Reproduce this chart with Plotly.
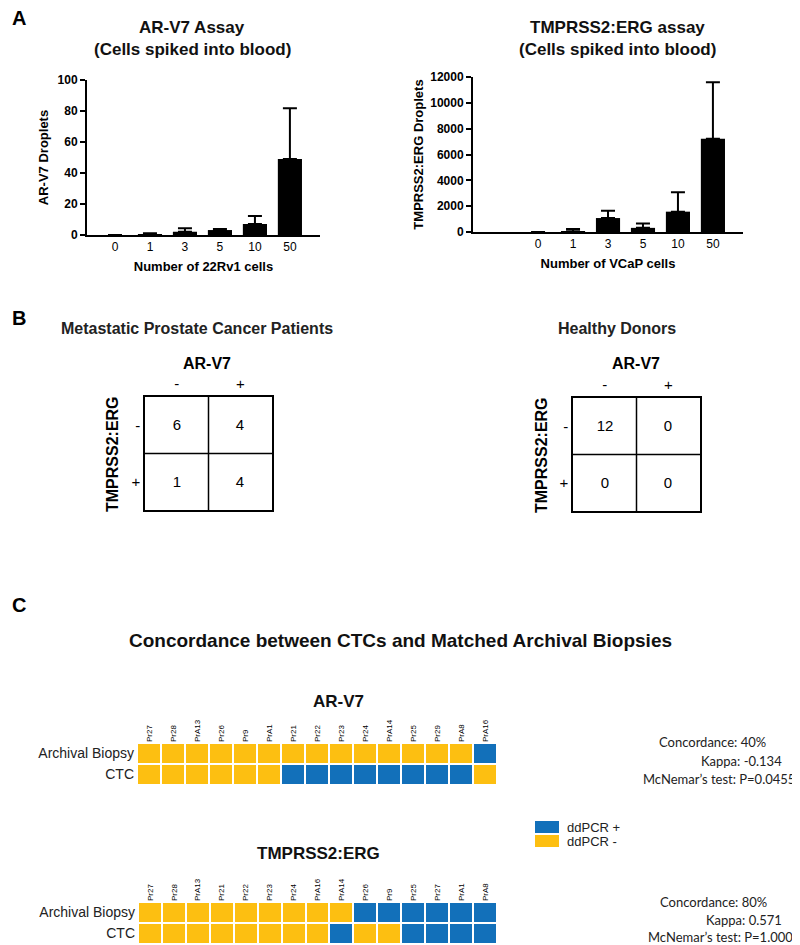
import plotly.graph_objects as go

# the page body has an 8px margin; map reference pixel coords 1:1
OFF = 8
W, H = 800 - OFF, 945 - OFF
def X(px): return min(max((px - OFF) / W, 0), 1)
def Y(py): return min(max(1 - (py - OFF) / H, 0), 1)

BLUE = "#1270BA"
YELLOW = "#FDBF11"
ARIAL = "Liberation Sans, Arial, sans-serif"
STATF = "Lato, sans-serif"

# ---- Panel A data ----
arv7_cells = ["0", "1", "3", "5", "10", "50"]
arv7_mean = [0, 0.6, 2.1, 3.2, 7.1, 49.0]
arv7_err = [None, 0.5, 2.2, 0.7, 5.2, 32.7]

tmp_cells = ["0", "1", "3", "5", "10", "50"]
tmp_mean = [0, 60, 1080, 320, 1575, 7225]
tmp_err = [None, 170, 570, 330, 1495, 4365]

# ---- Panel B data ----
pm_labels = ["-", "+"]
patients_table = [[6, 4], [1, 4]]
donors_table = [[12, 0], [0, 0]]

# ---- Panel C data ----
rows = ["Archival Biopsy", "CTC"]
arv7_samples = ["Pr27", "Pr28", "PrA13", "Pr26", "Pr9", "PrA1", "Pr21", "Pr22",
                "Pr23", "Pr24", "PrA14", "Pr25", "Pr29", "PrA8", "PrA16"]
arv7_archival = [0, 0, 0, 0, 0, 0, 0, 0, 0, 0, 0, 0, 0, 0, 1]
arv7_ctc = [0, 0, 0, 0, 0, 0, 1, 1, 1, 1, 1, 1, 1, 1, 0]
arv7_stats = ["Concordance: 40%", "Kappa: -0.134", "McNemar\u2019s test: P=0.0455"]

tmp_samples = ["Pr27", "Pr28", "PrA13", "Pr21", "Pr22", "Pr23", "Pr24", "PrA16",
               "PrA14", "Pr26", "Pr9", "Pr25", "Pr27", "PrA1", "PrA8"]
tmp_archival = [0, 0, 0, 0, 0, 0, 0, 0, 0, 1, 1, 1, 1, 1, 1]
tmp_ctc = [0, 0, 0, 0, 0, 0, 0, 0, 1, 0, 0, 1, 1, 1, 1]
tmp_stats = ["Concordance: 80%", "Kappa: 0.571", "McNemar\u2019s test: P=1.000"]

legend_labels = ["ddPCR +", "ddPCR -"]
legend_vals = [1, 0]

fig = go.Figure()

def bar_trace(cells, mean, err, xa, ya):
    return go.Bar(x=list(range(len(cells))), y=mean, width=0.69,
                  marker=dict(color="black", line=dict(width=0)),
                  error_y=dict(type="data", symmetric=False, array=err,
                               arrayminus=[0] * len(err), color="black",
                               thickness=2, width=7),
                  xaxis=xa, yaxis=ya, showlegend=False)

fig.add_trace(bar_trace(arv7_cells, arv7_mean, arv7_err, "x", "y"))
fig.add_trace(bar_trace(tmp_cells, tmp_mean, tmp_err, "x2", "y2"))

def table_trace(z, xa, ya):
    return go.Heatmap(z=z, x=[0, 1], y=[0, 1], colorscale=[[0, "white"], [1, "white"]],
                      showscale=False, texttemplate="%{z}",
                      textfont=dict(family=ARIAL, size=15, color="black"),
                      xaxis=xa, yaxis=ya, hoverinfo="skip")

fig.add_trace(table_trace(patients_table, "x3", "y3"))
fig.add_trace(table_trace(donors_table, "x4", "y4"))

cs = [[0, YELLOW], [0.5, YELLOW], [0.5, BLUE], [1, BLUE]]
def conc_trace(a, c, xa, ya):
    return go.Heatmap(z=[a, c], x=list(range(len(a))), y=[0, 1], colorscale=cs,
                      zmin=0, zmax=1, showscale=False, xgap=2, ygap=2,
                      xaxis=xa, yaxis=ya, hoverinfo="skip")

fig.add_trace(conc_trace(arv7_archival, arv7_ctc, "x5", "y5"))
fig.add_trace(conc_trace(tmp_archival, tmp_ctc, "x6", "y6"))
fig.add_trace(go.Heatmap(z=[[v] for v in legend_vals], x=[0], y=[0, 1], colorscale=cs,
                         zmin=0, zmax=1, showscale=False, ygap=2,
                         xaxis="x7", yaxis="y7", hoverinfo="skip"))

bold_tick = dict(family=ARIAL, size=12, color="black")
axcommon = dict(showgrid=False, zeroline=False, showline=True, linecolor="black", linewidth=2)
ttl_font = dict(family=ARIAL, size=13, color="black")

lay = dict(width=W, height=H, autosize=False,
           margin=dict(l=0, r=0, t=0, b=0, autoexpand=False),
           paper_bgcolor="white", plot_bgcolor="white", showlegend=False)

lay["xaxis"] = dict(domain=[X(87), X(320)], range=[-0.8, 5.86], tickvals=list(range(6)),
                    ticktext=arv7_cells, ticks="", tickfont=bold_tick, anchor="y",
                    tickprefix="<b>", ticksuffix="</b>",
                    title=dict(text="<b>Number of 22Rv1 cells</b>", font=ttl_font, standoff=8),
                    **axcommon)
lay["yaxis"] = dict(domain=[Y(235), Y(80)], range=[0, 100], dtick=20, ticks="outside", ticklen=5,
                    tickwidth=2, tickcolor="black", tickfont=bold_tick, anchor="x",
                    tickprefix="<b>", ticksuffix="</b>",
                    title=dict(text="<b>AR-V7 Droplets</b>", font=ttl_font, standoff=6),
                    **axcommon)
lay["xaxis2"] = dict(domain=[X(473), X(743)], range=[-1.86, 5.86], tickvals=list(range(6)),
                     ticktext=tmp_cells, ticks="", tickfont=bold_tick, anchor="y2",
                     tickprefix="<b>", ticksuffix="</b>",
                     title=dict(text="<b>Number of VCaP cells</b>", font=ttl_font, standoff=8),
                     **axcommon)
lay["yaxis2"] = dict(domain=[Y(232), Y(77)], range=[0, 12000], dtick=2000, tickformat="d",
                     ticks="outside", ticklen=5,
                     tickwidth=2, tickcolor="black", tickfont=bold_tick, anchor="x2",
                     tickprefix="<b>", ticksuffix="</b>",
                     title=dict(text="<b>TMPRSS2:ERG Droplets</b>", font=ttl_font, standoff=4),
                     **axcommon)

tab_tick = dict(family=ARIAL, size=15, color="black")
for i, (xd, yd) in zip([3, 4], [([X(145), X(272)], [Y(510), Y(397)]),
                                ([X(573), X(700)], [Y(511), Y(398)])]):
    lay[f"xaxis{i}"] = dict(domain=xd, range=[-0.5, 1.5], tickvals=[0, 1], ticktext=pm_labels,
                            side="top", ticks="", tickfont=tab_tick, anchor=f"y{i}",
                            showgrid=False, zeroline=False, showline=True, mirror=True,
                            linecolor="black", linewidth=1.5, fixedrange=True)
    lay[f"yaxis{i}"] = dict(domain=yd, range=[1.5, -0.5], tickvals=[0, 1], ticktext=pm_labels,
                            ticks="", tickfont=tab_tick, anchor=f"x{i}",
                            showgrid=False, zeroline=False, showline=True, mirror=True,
                            linecolor="black", linewidth=1.5, fixedrange=True)

shapes = []
for i in [3, 4]:
    shapes.append(dict(type="line", xref=f"x{i}", yref=f"y{i}", x0=0.5, x1=0.5, y0=-0.5, y1=1.5,
                       line=dict(color="black", width=1.5)))
    shapes.append(dict(type="line", xref=f"x{i}", yref=f"y{i}", x0=-0.5, x1=1.5, y0=0.5, y1=0.5,
                       line=dict(color="black", width=1.5)))

row_font = dict(family=ARIAL, size=14, color="#222")
samp_font = dict(family=ARIAL, size=8, color="black")
for i, (xd, yd, samples) in zip([5, 6], [([X(137), X(497)], [Y(785), Y(743)], arv7_samples),
                                         ([X(138), X(497)], [Y(944), Y(902)], tmp_samples)]):
    lay[f"xaxis{i}"] = dict(domain=xd, range=[-0.5, 14.5], tickvals=list(range(15)), ticktext=samples,
                            side="top", tickangle=-90, ticks="", tickfont=samp_font, anchor=f"y{i}",
                            showgrid=False, zeroline=False, showline=False)
    lay[f"yaxis{i}"] = dict(domain=yd, range=[1.5, -0.5], tickvals=[0, 1], ticktext=rows,
                            ticks="", tickfont=row_font, anchor=f"x{i}", ticklabelstandoff=2,
                            showgrid=False, zeroline=False, showline=False)

lay["xaxis7"] = dict(domain=[X(535), X(559)], range=[-0.5, 0.5], showticklabels=False, ticks="",
                     showgrid=False, zeroline=False, showline=False, anchor="y7")
lay["yaxis7"] = dict(domain=[Y(848), Y(820)], range=[1.5, -0.5], tickvals=[0, 1], ticktext=legend_labels,
                     side="right", ticks="", tickfont=dict(family=ARIAL, size=13, color="#222"),
                     ticklabelstandoff=7,
                     showgrid=False, zeroline=False, showline=False, anchor="x7")

ann = []
def A(text, x, y, size, bold=True, family=ARIAL, xanchor="center", angle=0, color="black"):
    ann.append(dict(text=f"<b>{text}</b>" if bold else text, x=X(x), y=Y(y), xref="paper", yref="paper",
                    showarrow=False, xanchor=xanchor, yanchor="middle", textangle=angle,
                    font=dict(family=family, size=size, color=color)))

A("A", 10, 18, 20, xanchor="left")
A("B", 10, 318, 20, xanchor="left")
A("C", 10, 605, 20, xanchor="left")
A("AR-V7 Assay", 192, 27, 17, color="#111")
A("(Cells spiked into blood)", 192, 49, 17, color="#111")
A("TMPRSS2:ERG assay", 617, 27, 17, color="#111")
A("(Cells spiked into blood)", 617, 49, 17, color="#111")
A("Metastatic Prostate Cancer Patients", 197, 328, 16, color="#222")
A("Healthy Donors", 617, 328, 16, color="#222")
A("AR-V7", 207, 364, 16)
A("AR-V7", 636, 364, 16)
A("TMPRSS2:ERG", 112, 454, 16, angle=-90)
A("TMPRSS2:ERG", 541, 455, 16, angle=-90)
A("Concordance between CTCs and Matched Archival Biopsies", 400, 640, 19, color="#111")
A("AR-V7", 338, 701, 17, color="#111")
A("TMPRSS2:ERG", 318, 853, 17, color="#111")

for txt, x, y in zip(arv7_stats, [768, 784, 797], [742, 761, 779]):
    A(txt, x, y, 13, bold=False, family=STATF, xanchor="right", color="#222")
for txt, x, y in zip(tmp_stats, [769, 784, 795], [902, 920, 937]):
    A(txt, x, y, 13, bold=False, family=STATF, xanchor="right", color="#222")

lay["annotations"] = ann
lay["shapes"] = shapes
fig.update_layout(**lay)
fig.write_html("out.html")
